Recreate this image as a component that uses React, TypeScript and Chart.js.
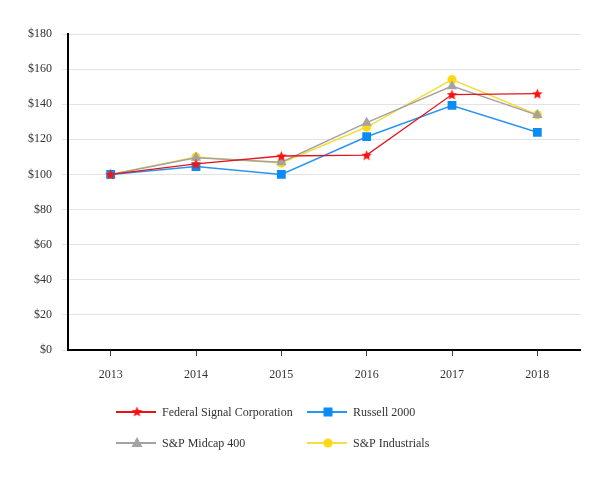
import React, { useEffect, useRef } from "react";
import { Chart, registerables } from "chart.js";

Chart.register(...registerables);

const years = ["2013", "2014", "2015", "2016", "2017", "2018"];
const federalSignal = [100, 106, 110.5, 111, 145.5, 146];
const russell2000 = [100, 104.5, 100, 121.5, 139.3, 124];
const spMidcap400 = [100, 109.5, 107, 129.5, 150.3, 133.8];
const spIndustrials = [100, 110, 106.5, 127, 154, 134];
const yTicks = [0, 20, 40, 60, 80, 100, 120, 140, 160, 180];

const seriesNames = [
  "Federal Signal Corporation",
  "Russell 2000",
  "S&P Midcap 400",
  "S&P Industrials",
];

const FONT = "'Liberation Serif', 'Times New Roman', serif";

function makeStar(color: string, size: number): HTMLCanvasElement {
  const c = document.createElement("canvas");
  c.width = size;
  c.height = size;
  const ctx = c.getContext("2d")!;
  const cx = size / 2;
  const cy = size / 2 + 0.5;
  const outer = size / 2;
  const inner = outer * 0.45;
  ctx.beginPath();
  for (let i = 0; i < 10; i++) {
    const r = i % 2 === 0 ? outer : inner;
    const a = -Math.PI / 2 + (i * Math.PI) / 5;
    const x = cx + r * Math.cos(a);
    const y = cy + r * Math.sin(a);
    if (i === 0) ctx.moveTo(x, y);
    else ctx.lineTo(x, y);
  }
  ctx.closePath();
  ctx.fillStyle = color;
  ctx.fill();
  return c;
}

export default function App() {
  const ref = useRef<HTMLCanvasElement | null>(null);

  useEffect(() => {
    if (!ref.current) return;
    const star = makeStar("#ff1010", 11);

    const colors = [
      { line: "#e3141c", point: "#ff1010", style: star as any, r: 5.5, w: 1.3 },
      { line: "#2a95f0", point: "#0a8cf5", style: "rect", r: 6.2, w: 1.5 },
      { line: "#a3a3a3", point: "#a3a3a3", style: "triangle", r: 6, w: 1.5 },
      { line: "#f7dc42", point: "#ffd814", style: "circle", r: 4.6, w: 1.5 },
    ];
    const data = [federalSignal, russell2000, spMidcap400, spIndustrials];

    const legendPlugin = {
      id: "customLegend",
      afterDraw(chart: any) {
        const ctx = chart.ctx as CanvasRenderingContext2D;
        const positions = [
          [116, 412],
          [307, 412],
          [116, 443],
          [307, 443],
        ];
        ctx.save();
        positions.forEach(([x0, y], i) => {
          const c = colors[i];
          ctx.strokeStyle = c.line;
          ctx.lineWidth = 2.2;
          ctx.beginPath();
          ctx.moveTo(x0, y);
          ctx.lineTo(x0 + 40, y);
          ctx.stroke();
          const mx = x0 + 21;
          ctx.fillStyle = c.point;
          if (c.style === "rect") {
            ctx.fillRect(mx - 4.5, y - 4.5, 9, 9);
          } else if (c.style === "triangle") {
            ctx.beginPath();
            ctx.moveTo(mx, y - 6);
            ctx.lineTo(mx + 5.5, y + 4);
            ctx.lineTo(mx - 5.5, y + 4);
            ctx.closePath();
            ctx.fill();
          } else if (c.style === "circle") {
            ctx.beginPath();
            ctx.arc(mx, y, 4.6, 0, Math.PI * 2);
            ctx.fill();
          } else {
            ctx.drawImage(c.style, mx - 5.5, y - 6);
          }
          ctx.fillStyle = "#333333";
          ctx.font = `12px ${FONT}`;
          ctx.textBaseline = "middle";
          ctx.textAlign = "left";
          ctx.fillText(seriesNames[i], x0 + 46, y + 1);
        });
        ctx.restore();
      },
    };

    const chart = new Chart(ref.current, {
      type: "line",
      data: {
        labels: years,
        datasets: data.map((d, i) => ({
          label: seriesNames[i],
          data: d,
          borderColor: colors[i].line,
          backgroundColor: colors[i].point,
          pointBackgroundColor: colors[i].point,
          pointBorderColor: colors[i].point,
          pointBorderWidth: 0,
          pointStyle: colors[i].style,
          pointRadius: colors[i].r,
          borderWidth: colors[i].w,
          tension: 0,
          fill: false,
        })),
      },
      options: {
        animation: false,
        responsive: true,
        maintainAspectRatio: false,
        layout: { padding: { top: 34, right: 33, bottom: 80, left: 0 } },
        plugins: {
          legend: { display: false },
          tooltip: { enabled: false },
        },
        scales: {
          x: {
            type: "category",
            offset: true,
            grid: {
              display: true,
              offset: false,
              drawOnChartArea: false,
              drawTicks: true,
              tickLength: 6,
              color: "#444444",
            },
            border: { display: true, color: "#000000", width: 2 },
            ticks: {
              color: "#333333",
              font: { family: FONT, size: 12 },
              padding: 12,
              maxRotation: 0,
            },
            afterFit(scale: any) {
              scale.height = 50;
            },
          },
          y: {
            min: 0,
            max: 180,
            afterBuildTicks(scale: any) {
              scale.ticks = yTicks.map((v) => ({ value: v }));
            },
            grid: {
              color: "#e3e3e3",
              lineWidth: 1,
              drawTicks: true,
              tickLength: 6,
            },
            border: { display: true, color: "#000000", width: 2 },
            ticks: {
              color: "#333333",
              font: { family: FONT, size: 12 },
              padding: 10,
              callback: (v: any) => "$" + v,
            },
            afterFit(scale: any) {
              scale.width = 68;
            },
          },
        },
      },
      plugins: [legendPlugin],
    } as any);

    return () => chart.destroy();
  }, []);

  return (
    <div style={{ position: "fixed", left: 0, top: 0, width: 613, height: 480, background: "#fff" }}>
      <canvas ref={ref} />
    </div>
  );
}
